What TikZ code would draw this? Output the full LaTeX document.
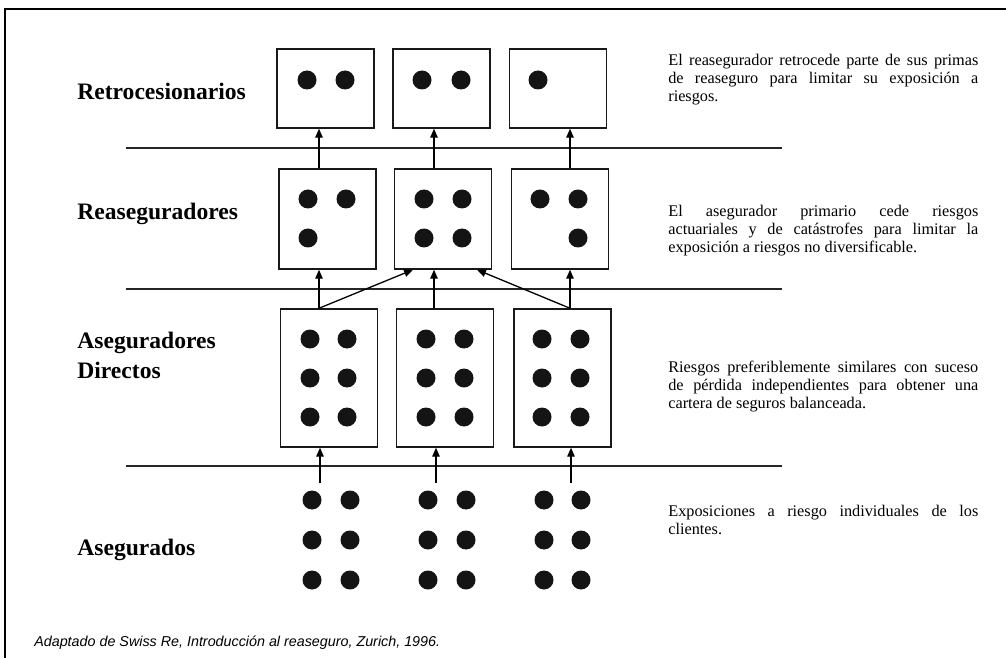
\documentclass[tikz,border=0pt]{standalone}
\usepackage{fontspec}
\setmainfont{Liberation Serif}
\newfontfamily\capfont{Liberation Sans}
\usetikzlibrary{arrows.meta}

\begin{document}
\begin{tikzpicture}[
    x=0.0216cm, y=-0.0216cm,
    tile/.style={draw=black!90, line width=0.9pt, inner sep=0pt, minimum width=97*0.0216cm},
    level/.style={line width=0.9pt, draw=black!85},
    link/.style={line width=0.8pt, -{Triangle[length=5.5pt, width=4.6pt]}},
    tier/.style={font=\fontsize{14.5}{18.4}\selectfont\bfseries, anchor=base west, inner sep=0pt, align=left},
    note/.style={font=\fontsize{10}{11}\selectfont, text width=310*0.0216cm, align=justify,
                 anchor=north west, inner sep=0pt},
    chip/.style={fill=black!92},
]
\useasboundingbox (0,0) rectangle (1006,658);

% ---- marco ----
\draw[line width=1.2pt] (5,658) -- (5,9) -- (1006,9);

% ---- separadores ----
\foreach \y in {148,289,466} {
    \draw[level] (126,\y) -- (782,\y);
}

% ---- cajas ----
\node[tile, minimum height=79*0.0216cm]  (r1c1) at (325.5,88.5) {};
\node[tile, minimum height=79*0.0216cm]  (r1c2) at (441.5,88.5) {};
\node[tile, minimum height=79*0.0216cm]  (r1c3) at (558,88.5)   {};
\node[tile, minimum height=100*0.0216cm] (r2c1) at (327.5,219)  {};
\node[tile, minimum height=100*0.0216cm] (r2c2) at (443,219)    {};
\node[tile, minimum height=100*0.0216cm] (r2c3) at (560,219)    {};
\node[tile, minimum height=138*0.0216cm] (r3c1) at (329,378)    {};
\node[tile, minimum height=138*0.0216cm] (r3c2) at (445,378)    {};
\node[tile, minimum height=138*0.0216cm] (r3c3) at (562.5,378)  {};

% ---- puntos ----
\foreach \x in {307,345,422,461,538} \fill[chip] (\x,80) circle [radius=9.5];
\foreach \x in {308,346,424,462,540,578} \fill[chip] (\x,199) circle [radius=9.5];
\foreach \x in {308,424,462,578} \fill[chip] (\x,238) circle [radius=9.5];
\foreach \x in {310,347,426,464,542,580}
    \foreach \y in {339,378,417} \fill[chip] (\x,\y) circle [radius=9.5];
\foreach \x in {312,350,428,466,544,581}
    \foreach \y in {500,540,580} \fill[chip] (\x,\y) circle [radius=9.5];

% ---- flechas ----
\coordinate (ax1) at (319,0);
\coordinate (ax2) at (434,0);
\coordinate (ax3) at (570,0);
\coordinate (s1) at (320,483);
\coordinate (s2) at (436,483);
\coordinate (s3) at (571,483);

\draw[link] (r2c1.north -| ax1) -- (r1c1.south -| ax1);
\draw[link] (r2c2.north -| ax2) -- (r1c2.south -| ax2);
\draw[link] (r2c3.north -| ax3) -- (r1c3.south -| ax3);

\draw[link] (r3c1.north -| ax1) -- (r2c1.south -| ax1);
\draw[link] (r3c2.north -| ax2) -- (r2c2.south -| ax2);
\draw[link] (r3c3.north -| ax3) -- (r2c3.south -| ax3);
\draw[link] (r3c1.north -| ax1) -- ([xshift=-30*0.0216cm]r2c2.south);
\draw[link] (r3c3.north -| ax3) -- ([xshift=34*0.0216cm]r2c2.south);

\draw[link] (s1) -- (s1 |- r3c1.south);
\draw[link] (s2) -- (s2 |- r3c2.south);
\draw[link] (s3) -- (s3 |- r3c3.south);

% ---- niveles ----
\node[tier] (retro) at (77,100) {Retrocesionarios};
\node[tier] (rease) at (77,220) {Reaseguradores};
\node[tier] (aseg)  at (77,378) {Aseguradores\\Directos};
\node[tier] (asdos) at (77,555) {Asegurados};

% ---- textos ----
\node[note] (n1) at (668,54) {\hyphenpenalty=10000
    El reasegurador retrocede parte de sus primas\linebreak de reaseguro para limitar su exposición a\linebreak riesgos.};
\node[note] (n2) at (668,205) {\hyphenpenalty=10000
    El asegurador primario cede riesgos\linebreak actuariales y de catástrofes para limitar la\linebreak exposición a riesgos no diversificable.};
\node[note] (n3) at (668,361) {\hyphenpenalty=10000
    Riesgos preferiblemente similares con suceso\linebreak de pérdida independientes para obtener una\linebreak cartera de seguros balanceada.};
\node[note] (n4) at (668,505) {\hyphenpenalty=10000
    Exposiciones a riesgo individuales de los\linebreak clientes.};

% ---- fuente ----
\node[font=\capfont\itshape\fontsize{8.8}{10}\selectfont, anchor=base west, inner sep=0pt]
    (src) at (34,646) {Adaptado de Swiss Re, Introducción al reaseguro, Zurich, 1996.};

\end{tikzpicture}
\end{document}
